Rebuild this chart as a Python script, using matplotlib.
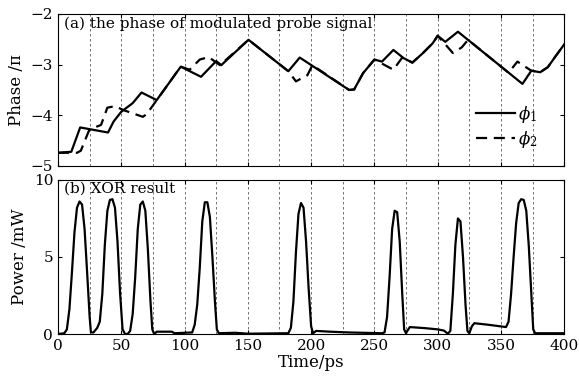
import matplotlib
matplotlib.use('Agg')
import matplotlib.pyplot as plt
from matplotlib.ticker import MultipleLocator

plt.rcParams['font.family'] = 'DejaVu Serif'
plt.rcParams['mathtext.fontset'] = 'dejavuserif'
plt.rcParams['axes.unicode_minus'] = True

# phase of probe signal (units of pi)
phi1_t = [0, 10.5, 17.5, 39.5, 44, 50, 59, 66, 78, 97, 113, 125, 129, 150.5,
          182, 191, 230, 234, 241, 250, 256, 265, 273, 280, 288, 296, 300,
          306, 316, 367, 374, 381, 387, 393, 400]
phi1_v = [-4.74, -4.72, -4.24, -4.34, -4.12, -3.93, -3.76, -3.55, -3.70, -3.04,
          -3.24, -2.93, -3.01, -2.51, -3.13, -2.86, -3.50, -3.49, -3.17, -2.90,
          -2.94, -2.71, -2.87, -2.96, -2.78, -2.58, -2.43, -2.55, -2.35, -3.38,
          -3.12, -3.15, -3.05, -2.84, -2.60]

phi2_t = [0, 15, 18, 24.5, 27, 34, 39, 45, 52, 67, 70, 78, 97, 104, 112, 119,
          128, 150.5, 182, 188, 197, 201, 230, 234, 241, 250, 265, 272, 280,
          288, 296, 300, 312, 319, 324, 356, 363, 374, 381, 387, 393, 400]
phi2_v = [-4.74, -4.74, -4.70, -4.30, -4.26, -4.19, -3.85, -3.82, -3.90, -4.03,
          -3.98, -3.70, -3.04, -3.10, -2.90, -2.85, -3.01, -2.51, -3.13, -3.33,
          -3.21, -3.01, -3.50, -3.49, -3.17, -2.90, -3.10, -2.86, -2.96, -2.78,
          -2.58, -2.43, -2.77, -2.66, -2.51, -3.16, -2.94, -3.12, -3.15, -3.05,
          -2.84, -2.60]

# XOR output power (mW)
power_t = [0, 5, 7, 9, 11, 13, 15, 17, 19, 21, 23, 25, 26,
           28, 31, 33, 35, 37, 39, 41, 43, 45, 47, 49, 51, 53,
           55, 57, 59, 61, 63, 65, 67, 69, 71, 73, 74.5, 76,
           78, 90, 92, 106, 108, 110, 112, 114, 116, 118, 120, 122, 124, 125.5, 127,
           140, 150, 182, 184, 186, 188, 190, 192, 194, 196, 198, 200, 201.5,
           204, 215, 230, 256, 258, 260, 262, 264, 266, 268, 270, 272, 273.5, 275,
           276, 278, 290, 300, 305, 308, 310, 312, 314, 316, 318, 320, 322, 323.5, 325,
           327, 329, 340, 354, 356, 358, 360, 362, 364, 366, 368, 370, 372, 374, 375.5, 377,
           400]
power_v = [0.0, 0.05, 0.3, 1.6, 4.0, 6.6, 8.2, 8.6, 8.4, 6.8, 4.0, 1.1, 0.1,
           0.1, 0.4, 0.8, 2.6, 5.8, 8.0, 8.7, 8.75, 8.2, 6.0, 2.7, 0.3, 0.0,
           0.0, 0.2, 1.3, 3.7, 6.8, 8.4, 8.6, 8.0, 5.5, 2.2, 0.3, 0.0,
           0.15, 0.15, 0.05, 0.1, 0.6, 1.9, 4.3, 7.3, 8.55, 8.55, 7.6, 5.0, 2.1, 0.3, 0.05,
           0.08, 0.02, 0.05, 0.4, 2.1, 5.3, 7.8, 8.5, 8.2, 6.0, 3.0, 0.5, 0.05,
           0.2, 0.15, 0.1, 0.05, 0.1, 1.1, 3.7, 6.8, 8.0, 7.9, 6.0, 2.6, 0.3, 0.05,
           0.2, 0.45, 0.38, 0.3, 0.22, 0.02, 0.2, 2.6, 5.8, 7.5, 7.3, 5.0, 1.9, 0.2, 0.05,
           0.5, 0.7, 0.6, 0.45, 0.8, 2.6, 5.0, 7.2, 8.5, 8.75, 8.7, 8.0, 5.7, 2.6, 0.3, 0.05,
           0.05]

fig = plt.figure(figsize=(5.79, 3.78), dpi=100)
ax1 = fig.add_axes([0.1002, 0.561, 0.8743, 0.402])
ax2 = fig.add_axes([0.1002, 0.1164, 0.8743, 0.4076])

for ax in (ax1, ax2):
    ax.set_xlim(0, 400)
    ax.xaxis.set_major_locator(MultipleLocator(50))
    ax.xaxis.set_minor_locator(MultipleLocator(25))
    ax.grid(True, axis='x', which='both', linestyle=(0, (3, 3)), color='0.35', lw=0.6)
    ax.tick_params(which='both', direction='in', top=True, right=True, labelsize=11,
                   length=3)
    ax.tick_params(which='minor', length=0)
    for s in ax.spines.values():
        s.set_linewidth(0.8)

ax1.plot(phi1_t, phi1_v, color='black', lw=1.6, label=r'$\phi_1$')
ax1.plot(phi2_t, phi2_v, color='black', lw=1.6, linestyle=(0, (5, 3)), label=r'$\phi_2$')
ax1.set_ylim(-5, -2)
ax1.set_yticks([-5, -4, -3, -2])
ax1.tick_params(labelbottom=False)
ax1.set_ylabel('Phase /π', fontsize=12, labelpad=4)
ax1.text(0.012, 0.985, '(a) the phase of modulated probe signal', transform=ax1.transAxes,
         fontsize=11, va='top', ha='left')
ax1.legend(loc='lower right', bbox_to_anchor=(0.96, 0.06), frameon=False, fontsize=12,
           handlelength=2.3, handletextpad=0.2, labelspacing=0.25, borderaxespad=0)

ax2.plot(power_t, power_v, color='black', lw=1.6)
ax2.set_ylim(0, 10)
ax2.set_yticks([0, 5, 10])
ax2.set_ylabel('Power /mW', fontsize=12, labelpad=4)
ax2.set_xlabel('Time/ps', fontsize=12, labelpad=1)
ax2.text(0.012, 0.99, '(b) XOR result', transform=ax2.transAxes,
         fontsize=11, va='top', ha='left')

fig.savefig('out.png', dpi=100)
